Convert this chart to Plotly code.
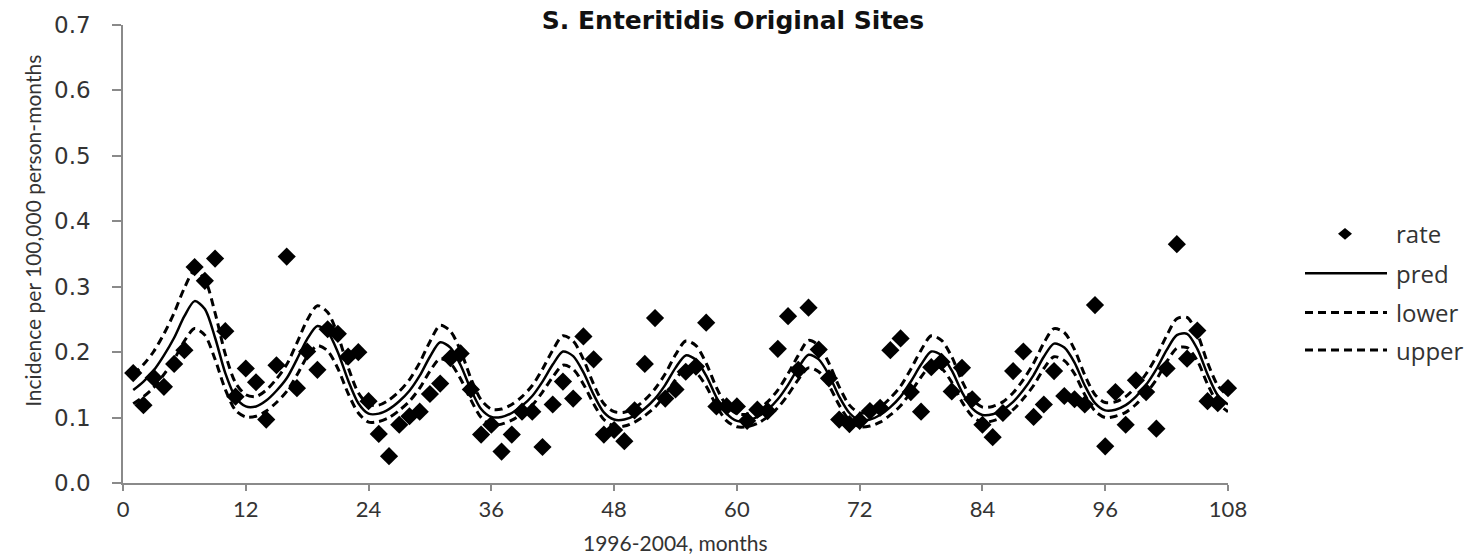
import plotly.graph_objects as go

months = list(range(1, 109))

rate = [0.168, 0.119, 0.161, 0.147, 0.182, 0.203, 0.330, 0.309, 0.343, 0.232, 0.132, 0.175,
        0.154, 0.097, 0.180, 0.346, 0.145, 0.201, 0.173, 0.235, 0.228, 0.193, 0.200, 0.125,
        0.075, 0.041, 0.089, 0.102, 0.109, 0.136, 0.152, 0.191, 0.198, 0.143, 0.074, 0.089,
        0.048, 0.074, 0.109, 0.109, 0.055, 0.120, 0.155, 0.129, 0.224, 0.189, 0.074, 0.081,
        0.064, 0.111, 0.182, 0.252, 0.129, 0.143, 0.170, 0.178, 0.245, 0.117, 0.117, 0.117,
        0.095, 0.112, 0.110, 0.205, 0.255, 0.173, 0.268, 0.204, 0.160, 0.097, 0.090, 0.095,
        0.110, 0.115, 0.203, 0.221, 0.139, 0.109, 0.177, 0.185, 0.140, 0.176, 0.128, 0.089,
        0.070, 0.107, 0.171, 0.201, 0.101, 0.120, 0.171, 0.133, 0.128, 0.120, 0.272, 0.056,
        0.139, 0.089, 0.157, 0.139, 0.083, 0.175, 0.365, 0.190, 0.233, 0.125, 0.122, 0.145]

pred = [0.142, 0.155, 0.172, 0.195, 0.222, 0.255, 0.278, 0.266, 0.222, 0.168, 0.131, 0.117,
        0.117, 0.126, 0.141, 0.160, 0.189, 0.220, 0.240, 0.231, 0.200, 0.157, 0.122, 0.106,
        0.106, 0.113, 0.125, 0.141, 0.164, 0.193, 0.215, 0.207, 0.180, 0.143, 0.113, 0.101,
        0.101, 0.107, 0.118, 0.133, 0.155, 0.181, 0.201, 0.194, 0.169, 0.135, 0.108, 0.097,
        0.097, 0.103, 0.114, 0.129, 0.150, 0.176, 0.195, 0.188, 0.164, 0.131, 0.106, 0.095,
        0.095, 0.101, 0.112, 0.128, 0.150, 0.176, 0.196, 0.189, 0.165, 0.132, 0.107, 0.096,
        0.097, 0.104, 0.116, 0.132, 0.155, 0.181, 0.201, 0.195, 0.172, 0.139, 0.114, 0.104,
        0.105, 0.112, 0.124, 0.142, 0.165, 0.193, 0.213, 0.207, 0.184, 0.149, 0.122, 0.111,
        0.112, 0.119, 0.132, 0.150, 0.174, 0.203, 0.226, 0.228, 0.205, 0.166, 0.134, 0.120]

upper = [0.166, 0.181, 0.201, 0.228, 0.260, 0.298, 0.325, 0.311, 0.260, 0.197, 0.153, 0.135,
         0.132, 0.142, 0.159, 0.181, 0.214, 0.249, 0.271, 0.261, 0.226, 0.177, 0.138, 0.120,
         0.119, 0.127, 0.140, 0.158, 0.184, 0.216, 0.241, 0.232, 0.202, 0.160, 0.127, 0.113,
         0.113, 0.120, 0.132, 0.149, 0.174, 0.203, 0.225, 0.217, 0.189, 0.151, 0.121, 0.109,
         0.108, 0.115, 0.127, 0.144, 0.167, 0.196, 0.217, 0.210, 0.183, 0.146, 0.118, 0.106,
         0.105, 0.112, 0.124, 0.142, 0.167, 0.195, 0.218, 0.210, 0.183, 0.147, 0.119, 0.107,
         0.109, 0.116, 0.130, 0.148, 0.174, 0.203, 0.225, 0.218, 0.193, 0.156, 0.128, 0.116,
         0.117, 0.124, 0.138, 0.158, 0.183, 0.214, 0.236, 0.230, 0.204, 0.165, 0.135, 0.123,
         0.124, 0.132, 0.147, 0.167, 0.193, 0.225, 0.251, 0.253, 0.228, 0.184, 0.149, 0.133]

lower = [0.121, 0.132, 0.146, 0.166, 0.189, 0.217, 0.236, 0.226, 0.189, 0.143, 0.111, 0.101,
         0.102, 0.110, 0.123, 0.140, 0.165, 0.193, 0.210, 0.202, 0.175, 0.137, 0.107, 0.093,
         0.094, 0.100, 0.111, 0.125, 0.145, 0.171, 0.190, 0.183, 0.159, 0.127, 0.100, 0.089,
         0.090, 0.096, 0.106, 0.119, 0.139, 0.162, 0.180, 0.174, 0.151, 0.121, 0.097, 0.087,
         0.087, 0.093, 0.103, 0.116, 0.135, 0.158, 0.176, 0.169, 0.148, 0.118, 0.095, 0.086,
         0.086, 0.091, 0.101, 0.115, 0.135, 0.158, 0.176, 0.170, 0.149, 0.119, 0.096, 0.086,
         0.087, 0.093, 0.104, 0.118, 0.139, 0.162, 0.180, 0.175, 0.154, 0.124, 0.102, 0.093,
         0.095, 0.101, 0.112, 0.129, 0.149, 0.175, 0.193, 0.187, 0.167, 0.135, 0.110, 0.100,
         0.102, 0.108, 0.120, 0.137, 0.158, 0.185, 0.206, 0.207, 0.187, 0.151, 0.122, 0.109]

x_ticks = [0, 12, 24, 36, 48, 60, 72, 84, 96, 108]
y_ticks = [0.0, 0.1, 0.2, 0.3, 0.4, 0.5, 0.6, 0.7]
legend_names = ["rate", "pred", "lower", "upper"]

TXT = "#333333"
AX = "#8a8a8a"
W, H = 1480, 558
L, R, T, B = 123, 252, 18, 75
PW, PH = W - L - R, H - T - B

def px(xp):
    return (xp - L) / PW

def py(yp):
    return (H - B - yp) / PH

DASH = "8px,5px"
fig = go.Figure()
fig.add_trace(go.Scatter(x=months, y=upper, mode="lines", name="upper",
                         line=dict(color="black", width=3, dash=DASH, shape="spline", smoothing=0.8)))
fig.add_trace(go.Scatter(x=months, y=lower, mode="lines", name="lower",
                         line=dict(color="black", width=3, dash=DASH, shape="spline", smoothing=0.8)))
fig.add_trace(go.Scatter(x=months, y=pred, mode="lines", name="pred",
                         line=dict(color="black", width=2.5, shape="spline", smoothing=0.8)))
fig.add_trace(go.Scatter(x=months, y=rate, mode="markers", name="rate", cliponaxis=False,
                         marker=dict(symbol="diamond", size=14, color="black")))

fig.update_layout(
    width=W, height=H,
    margin=dict(l=L, r=R, t=T, b=B),
    plot_bgcolor="white", paper_bgcolor="white",
    showlegend=False,
    title=dict(text="<b>S. Enteritidis Original Sites</b>", x=733 / W, xref="container",
               xanchor="center", y=1 - 20 / H, yref="container", yanchor="middle",
               font=dict(family="DejaVu Sans", size=25, color="#111111")),
)
fig.update_xaxes(range=[0, 108], tickvals=x_ticks, ticktext=[str(v) for v in x_ticks],
                 showline=True, linecolor=AX, linewidth=1.5, ticks="outside", ticklen=6,
                 tickcolor=AX, tickwidth=1.5, showgrid=False, zeroline=False,
                 tickfont=dict(family="Lato", size=22, color=TXT))
fig.update_yaxes(range=[0, 0.7], tickvals=y_ticks, ticktext=["%.1f" % v for v in y_ticks],
                 showline=True, linecolor=AX, linewidth=1.5, ticks="outside", ticklen=9,
                 tickcolor=AX, tickwidth=1.5, showgrid=False, zeroline=False,
                 ticklabelstandoff=17,
                 tickfont=dict(family="DejaVu Sans", size=23, color=TXT))

# axis titles
fig.add_annotation(text="Incidence per 100,000 person-months", xref="paper", yref="paper",
                   x=px(33), y=py(227), textangle=-90, showarrow=False,
                   xanchor="center", yanchor="middle",
                   font=dict(family="Lato", size=21, color=TXT))
fig.add_annotation(text="1996-2004, months", xref="paper", yref="paper",
                   x=px(675), y=py(543), showarrow=False, xanchor="center", yanchor="middle",
                   font=dict(family="Lato", size=21, color=TXT))

# custom legend
rows = [230, 270, 310, 348]
cx, hw, hh = 1345, 7, 6
fig.add_shape(type="path", xref="paper", yref="paper",
              path="M %f,%f L %f,%f L %f,%f L %f,%f Z" % (
                  px(cx - hw), py(rows[0]), px(cx), py(rows[0] - hh),
                  px(cx + hw), py(rows[0]), px(cx), py(rows[0] + hh)),
              fillcolor="black", line=dict(width=0))
fig.add_shape(type="line", xref="paper", yref="paper", x0=px(1305), x1=px(1387),
              y0=py(rows[1]), y1=py(rows[1]), line=dict(color="black", width=2.5))
for r in rows[2:]:
    fig.add_shape(type="line", xref="paper", yref="paper", x0=px(1305), x1=px(1387),
                  y0=py(r), y1=py(r), line=dict(color="black", width=3, dash=DASH))
for name, r in zip(legend_names, rows):
    fig.add_annotation(text=name, xref="paper", yref="paper", x=px(1394), y=py(r),
                       showarrow=False, xanchor="left", yanchor="middle",
                       font=dict(family="Open Sans", size=24, color=TXT))

fig.write_html("out.html")
